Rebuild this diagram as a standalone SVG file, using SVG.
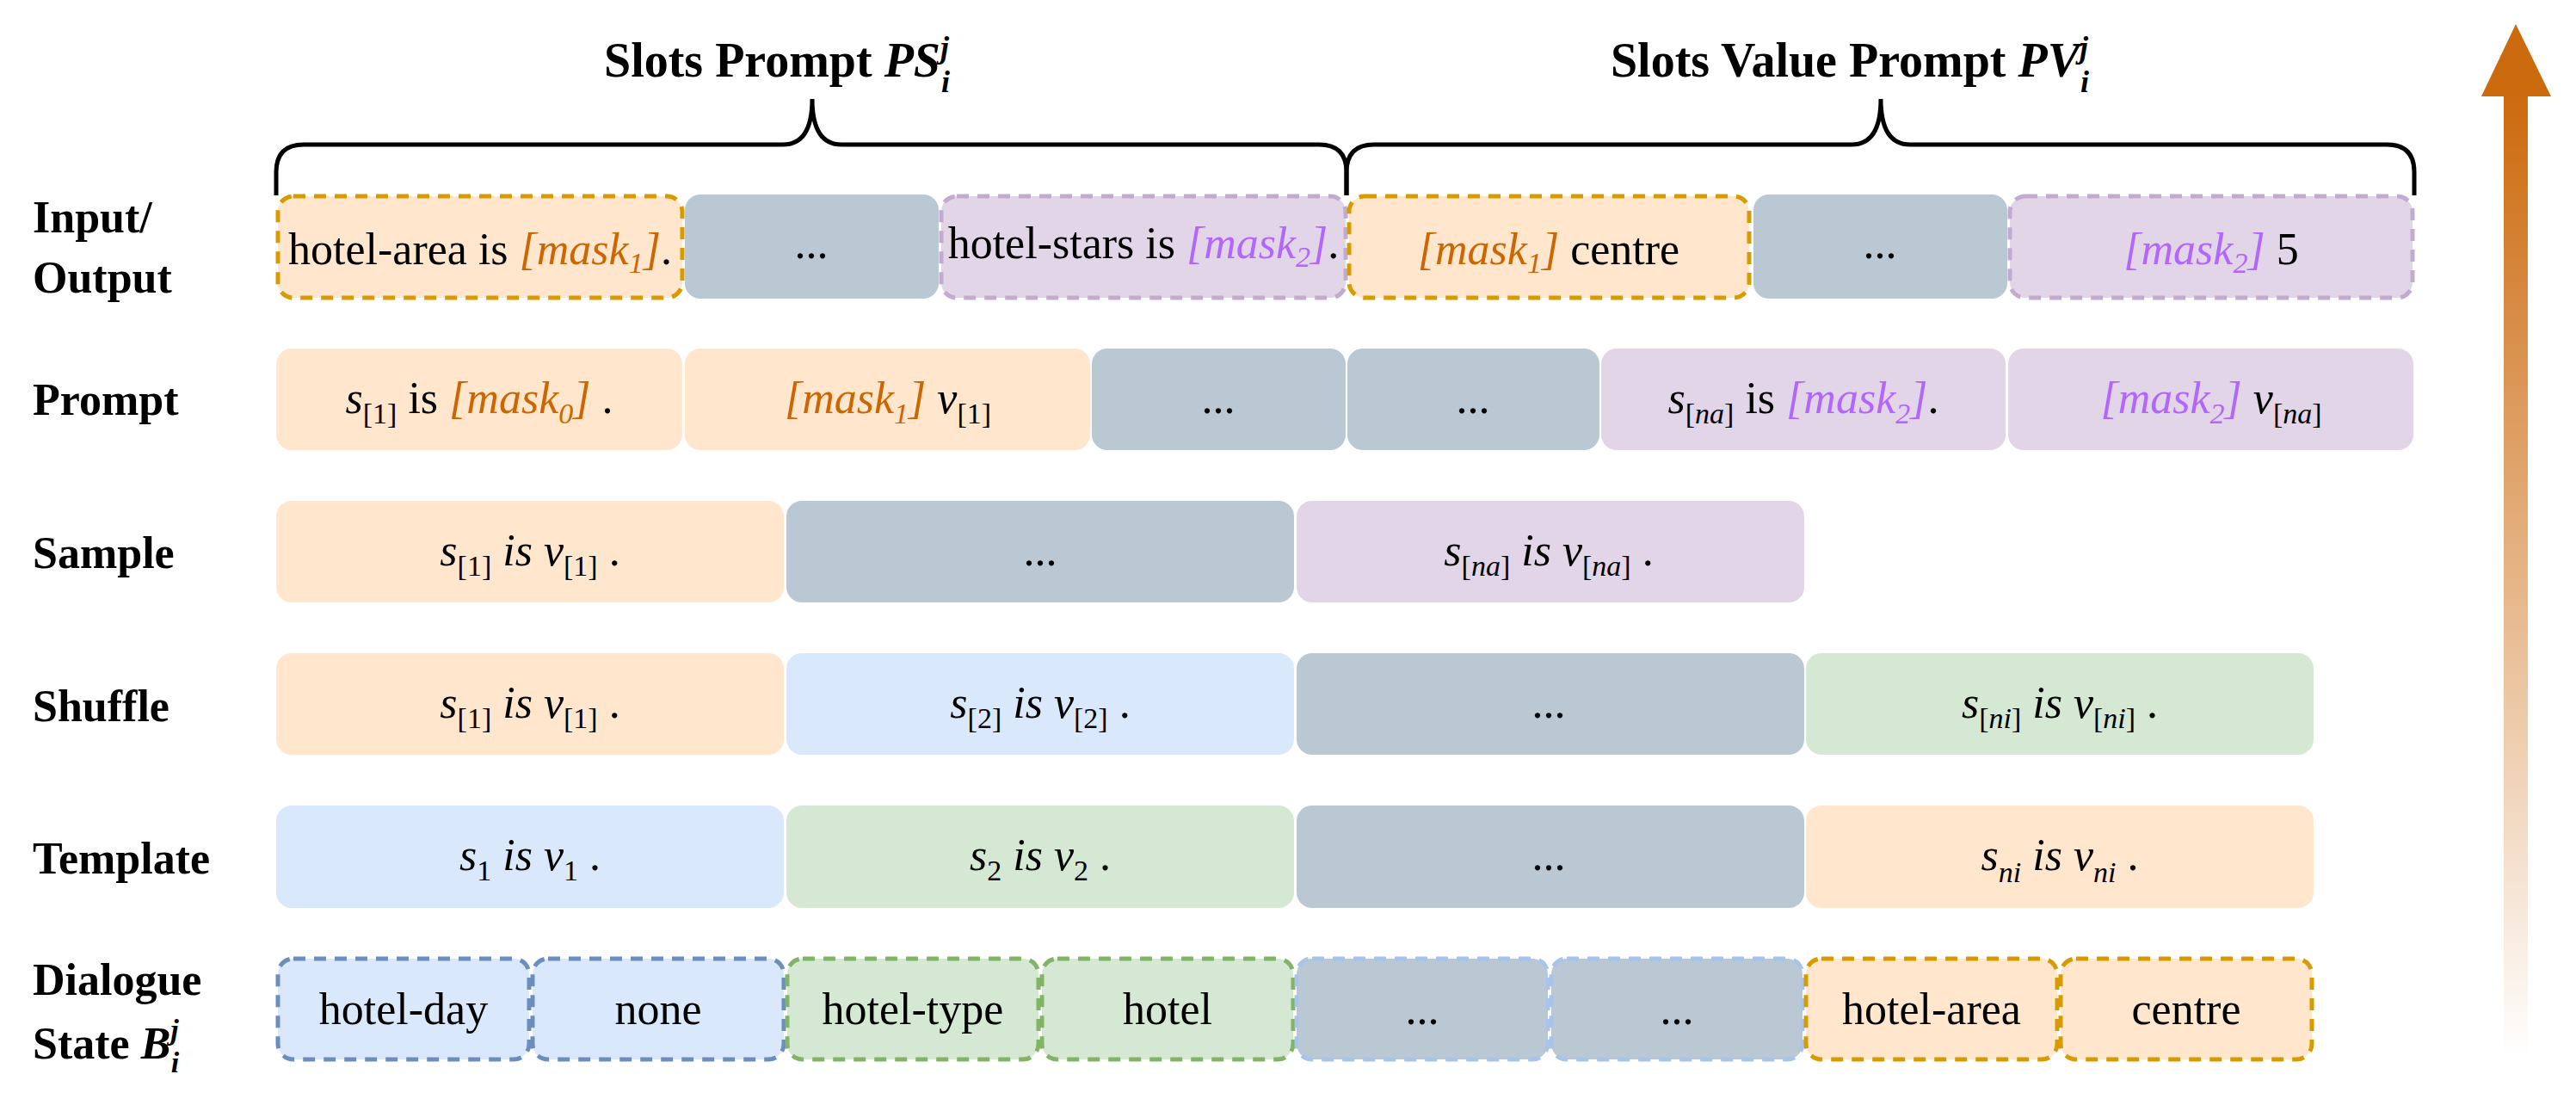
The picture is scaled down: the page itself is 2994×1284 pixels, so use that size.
<svg xmlns="http://www.w3.org/2000/svg" width="2994" height="1284" viewBox="0 0 2994 1284">
<style>
.t{font-family:"Liberation Serif","Times New Roman",serif;font-size:52px;fill:#000;text-anchor:middle}
.m{font-style:italic}
.sb{font-size:34px}
.lab{font-family:"Liberation Serif",serif;font-size:52px;font-weight:bold;fill:#000}
.or{fill:#FFE6CC}.pu{fill:#E1D5E7}.gr{fill:#BAC8D3}.bl{fill:#DAE8FC}.gn{fill:#D5E8D4}
.dash{stroke-width:5;stroke-dasharray:14 10}
.so{stroke:#D79B00}.sp{stroke:#C3ABD0}.sbl{stroke:#6C8EBF}.sg{stroke:#82B366}.sl{stroke:#A9C4EB}
.mo{fill:#CC6600;font-style:italic}.mp{fill:#B266FF;font-style:italic}
.brace{fill:none;stroke:#000;stroke-width:5}
</style>
<defs>
<linearGradient id="ag" x1="0" y1="0" x2="0" y2="1">
<stop offset="0" stop-color="#CC6A0E"/><stop offset="1" stop-color="#CC6A0E" stop-opacity="0"/>
</linearGradient>
</defs>
<g id="labels">
<text class="lab" x="38" y="270">Input/</text>
<text class="lab" x="38" y="340">Output</text>
<text class="lab" x="38" y="482">Prompt</text>
<text class="lab" x="38" y="660">Sample</text>
<text class="lab" x="38" y="838">Shuffle</text>
<text class="lab" x="38" y="1015">Template</text>
<text class="lab" x="38" y="1156">Dialogue</text>
<text class="lab" x="38" y="1230">State <tspan font-style="italic">B</tspan><tspan font-style="italic" font-size="34" dy="-22">j</tspan><tspan font-style="italic" font-size="34" dx="-9" dy="38">i</tspan></text>
</g>
<g id="connectors">
<path class="brace" d="M321 227 V200 Q321 168 353 168 H910 Q944 168 944 115 Q944 168 978 168 H1533 Q1565 168 1565 200 V227"/>
<path class="brace" d="M1565 227 V200 Q1565 168 1597 168 H2152 Q2186 168 2186 115 Q2186 168 2220 168 H2774 Q2806 168 2806 200 V227"/>
<rect x="2910" y="110" width="28" height="1120" fill="url(#ag)"/>
<polygon points="2924,28 2884,112 2965,112" fill="#CC6A0E"/>
</g>
<g id="titles">
<text class="t" x="903" y="89" style="font-weight:bold;font-size:56px">Slots Prompt <tspan font-style="italic">PS</tspan><tspan font-style="italic" font-size="36" dy="-22">j</tspan><tspan font-style="italic" font-size="36" dx="-9" dy="40">i</tspan></text>
<text class="t" x="2150" y="89" style="font-weight:bold;font-size:56px">Slots Value Prompt <tspan font-style="italic">PV</tspan><tspan font-style="italic" font-size="36" dy="-22">j</tspan><tspan font-style="italic" font-size="36" dx="-9" dy="40">i</tspan></text>
</g>
<!-- Row 1 -->
<g id="io1"><rect class="or dash so" x="323" y="228" width="470" height="118" rx="18"/><text class="t" x="558" y="307">hotel-area is <tspan class="mo">[mask<tspan class="sb" dy="10">1</tspan><tspan dy="-10">]</tspan></tspan>.</text></g>
<g id="io2"><rect class="gr" x="796" y="226" width="295" height="121" rx="18"/><text class="t" x="943" y="300">...</text></g>
<g id="io3"><rect class="pu dash sp" x="1094" y="228" width="470" height="118" rx="18"/><text class="t" x="1329" y="300">hotel-stars is <tspan class="mp">[mask<tspan class="sb" dy="10">2</tspan><tspan dy="-10">]</tspan></tspan>.</text></g>
<g id="io4"><rect class="or dash so" x="1568" y="228" width="465" height="118" rx="18"/><text class="t" x="1800" y="307"><tspan class="mo">[mask<tspan class="sb" dy="10">1</tspan><tspan dy="-10">]</tspan></tspan> centre</text></g>
<g id="io5"><rect class="gr" x="2038" y="226" width="295" height="121" rx="18"/><text class="t" x="2185" y="300">...</text></g>
<g id="io6"><rect class="pu dash sp" x="2336" y="228" width="468" height="118" rx="18"/><text class="t" x="2570" y="307"><tspan class="mp">[mask<tspan class="sb" dy="10">2</tspan><tspan dy="-10">]</tspan></tspan> 5</text></g>
<!-- Row 2 -->
<g id="p1"><rect class="or" x="321" y="405" width="472" height="118" rx="18"/><text class="t" x="557" y="480"><tspan class="m">s</tspan><tspan class="sb" dy="12">[1]</tspan><tspan dy="-12"> is </tspan><tspan class="mo">[mask<tspan class="sb" dy="12">0</tspan><tspan dy="-12">]</tspan></tspan> .</text></g>
<g id="p2"><rect class="or" x="796" y="405" width="471" height="118" rx="18"/><text class="t" x="1032" y="480"><tspan class="mo">[mask<tspan class="sb" dy="12">1</tspan><tspan dy="-12">]</tspan></tspan> <tspan class="m">v</tspan><tspan class="sb" dy="12">[1]</tspan></text></g>
<g id="p3"><rect class="gr" x="1269" y="405" width="295" height="118" rx="18"/><text class="t" x="1416" y="480">...</text></g>
<g id="p4"><rect class="gr" x="1566" y="405" width="293" height="118" rx="18"/><text class="t" x="1712" y="480">...</text></g>
<g id="p5"><rect class="pu" x="1861" y="405" width="470" height="118" rx="18"/><text class="t" x="2096" y="480"><tspan class="m">s</tspan><tspan class="sb" dy="12">[<tspan font-style="italic">na</tspan>]</tspan><tspan dy="-12"> is </tspan><tspan class="mp">[mask<tspan class="sb" dy="12">2</tspan><tspan dy="-12">]</tspan></tspan>.</text></g>
<g id="p6"><rect class="pu" x="2334" y="405" width="471" height="118" rx="18"/><text class="t" x="2570" y="480"><tspan class="mp">[mask<tspan class="sb" dy="12">2</tspan><tspan dy="-12">]</tspan></tspan> <tspan class="m">v</tspan><tspan class="sb" dy="12">[<tspan font-style="italic">na</tspan>]</tspan></text></g>
<!-- Row 3 -->
<g id="s1"><rect class="or" x="321" y="582" width="590" height="118" rx="18"/><text class="t" x="616" y="657"><tspan class="m">s</tspan><tspan class="sb" dy="12">[1]</tspan><tspan class="m" dy="-12"> is v</tspan><tspan class="sb" dy="12">[1]</tspan><tspan dy="-12"> .</tspan></text></g>
<g id="s2"><rect class="gr" x="914" y="582" width="590" height="118" rx="18"/><text class="t" x="1209" y="657">...</text></g>
<g id="s3"><rect class="pu" x="1507" y="582" width="590" height="118" rx="18"/><text class="t" x="1800" y="657"><tspan class="m">s</tspan><tspan class="sb" dy="12">[<tspan font-style="italic">na</tspan>]</tspan><tspan class="m" dy="-12"> is v</tspan><tspan class="sb" dy="12">[<tspan font-style="italic">na</tspan>]</tspan><tspan dy="-12"> .</tspan></text></g>
<!-- Row 4 -->
<g id="sh1"><rect class="or" x="321" y="759" width="590" height="118" rx="18"/><text class="t" x="616" y="834"><tspan class="m">s</tspan><tspan class="sb" dy="12">[1]</tspan><tspan class="m" dy="-12"> is v</tspan><tspan class="sb" dy="12">[1]</tspan><tspan dy="-12"> .</tspan></text></g>
<g id="sh2"><rect class="bl" x="914" y="759" width="590" height="118" rx="18"/><text class="t" x="1209" y="834"><tspan class="m">s</tspan><tspan class="sb" dy="12">[2]</tspan><tspan class="m" dy="-12"> is v</tspan><tspan class="sb" dy="12">[2]</tspan><tspan dy="-12"> .</tspan></text></g>
<g id="sh3"><rect class="gr" x="1507" y="759" width="590" height="118" rx="18"/><text class="t" x="1800" y="834">...</text></g>
<g id="sh4"><rect class="gn" x="2099" y="759" width="590" height="118" rx="18"/><text class="t" x="2394" y="834"><tspan class="m">s</tspan><tspan class="sb" dy="12">[<tspan font-style="italic">ni</tspan>]</tspan><tspan class="m" dy="-12"> is v</tspan><tspan class="sb" dy="12">[<tspan font-style="italic">ni</tspan>]</tspan><tspan dy="-12"> .</tspan></text></g>
<!-- Row 5 -->
<g id="t1"><rect class="bl" x="321" y="936" width="590" height="119" rx="18"/><text class="t" x="616" y="1011"><tspan class="m">s</tspan><tspan class="sb" dy="12">1</tspan><tspan class="m" dy="-12"> is v</tspan><tspan class="sb" dy="12">1</tspan><tspan dy="-12"> .</tspan></text></g>
<g id="t2"><rect class="gn" x="914" y="936" width="590" height="119" rx="18"/><text class="t" x="1209" y="1011"><tspan class="m">s</tspan><tspan class="sb" dy="12">2</tspan><tspan class="m" dy="-12"> is v</tspan><tspan class="sb" dy="12">2</tspan><tspan dy="-12"> .</tspan></text></g>
<g id="t3"><rect class="gr" x="1507" y="936" width="590" height="119" rx="18"/><text class="t" x="1800" y="1011">...</text></g>
<g id="t4"><rect class="or" x="2099" y="936" width="590" height="119" rx="18"/><text class="t" x="2394" y="1011"><tspan class="m">s</tspan><tspan class="sb m" dy="14">ni</tspan><tspan class="m" dy="-14"> is v</tspan><tspan class="sb m" dy="14">ni</tspan><tspan dy="-14"> .</tspan></text></g>
<!-- Row 6 -->
<g id="d1"><rect class="bl dash sbl" x="323" y="1114" width="292" height="117" rx="18"/><text class="t" x="469" y="1190">hotel-day</text></g>
<g id="d2"><rect class="bl dash sbl" x="619" y="1114" width="292" height="117" rx="18"/><text class="t" x="765" y="1190">none</text></g>
<g id="d3"><rect class="gn dash sg" x="915" y="1114" width="292" height="117" rx="18"/><text class="t" x="1061" y="1190">hotel-type</text></g>
<g id="d4"><rect class="gn dash sg" x="1211" y="1114" width="292" height="117" rx="18"/><text class="t" x="1357" y="1190">hotel</text></g>
<g id="d5"><rect class="gr dash sl" x="1507" y="1114" width="292" height="117" rx="18"/><text class="t" x="1653" y="1190">...</text></g>
<g id="d6"><rect class="gr dash sl" x="1803" y="1114" width="292" height="117" rx="18"/><text class="t" x="1949" y="1190">...</text></g>
<g id="d7"><rect class="or dash so" x="2099" y="1114" width="292" height="117" rx="18"/><text class="t" x="2245" y="1190">hotel-area</text></g>
<g id="d8"><rect class="or dash so" x="2395" y="1114" width="292" height="117" rx="18"/><text class="t" x="2541" y="1190">centre</text></g>
</svg>
